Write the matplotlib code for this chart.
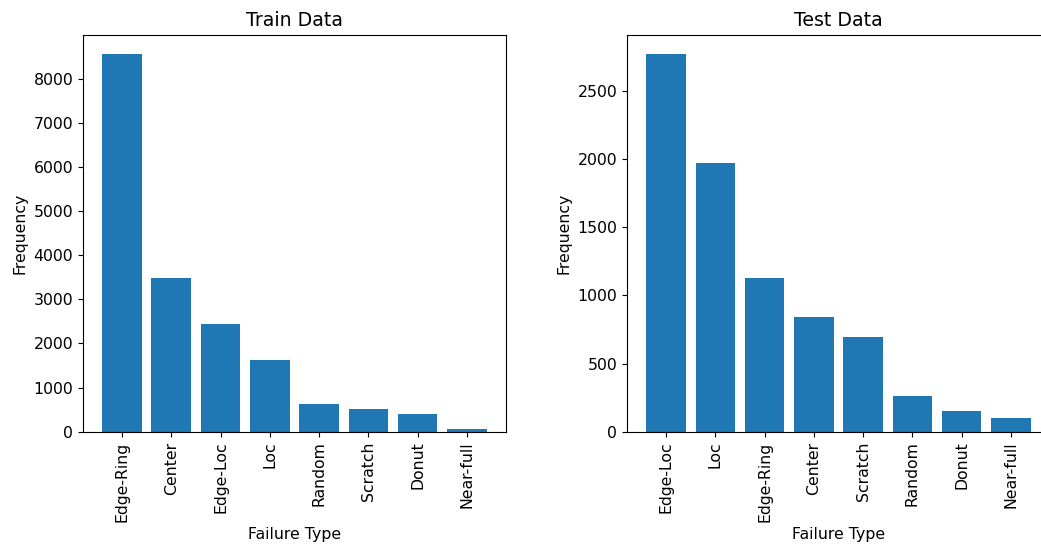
import numpy as np
import matplotlib.pyplot as plt

# failure type counts per split
train_types = ['Edge-Ring', 'Center', 'Edge-Loc', 'Loc', 'Random', 'Scratch', 'Donut', 'Near-full']
train_counts = [8565, 3480, 2433, 1635, 618, 512, 407, 60]

test_types = ['Edge-Loc', 'Loc', 'Edge-Ring', 'Center', 'Scratch', 'Random', 'Donut', 'Near-full']
test_counts = [2776, 1973, 1128, 840, 698, 259, 151, 100]

plt.rcParams['font.size'] = 11.3

fig = plt.figure(figsize=(10.41, 5.47), dpi=100)
ax1 = fig.add_axes([0.0797, 0.2108, 0.4063, 0.7258])
ax2 = fig.add_axes([0.6023, 0.2108, 0.4063, 0.7258])

ax1.bar(train_types, train_counts)
ax1.set_title("Train Data")
ax1.set_xlabel("Failure Type")
ax1.set_ylabel("Frequency")
ax1.tick_params(axis='x', labelrotation=90)

ax2.bar(test_types, test_counts)
ax2.set_title("Test Data")
ax2.set_xlabel("Failure Type")
ax2.set_ylabel("Frequency")
ax2.tick_params(axis='x', labelrotation=90)

fig.savefig("out.png", dpi=100)
